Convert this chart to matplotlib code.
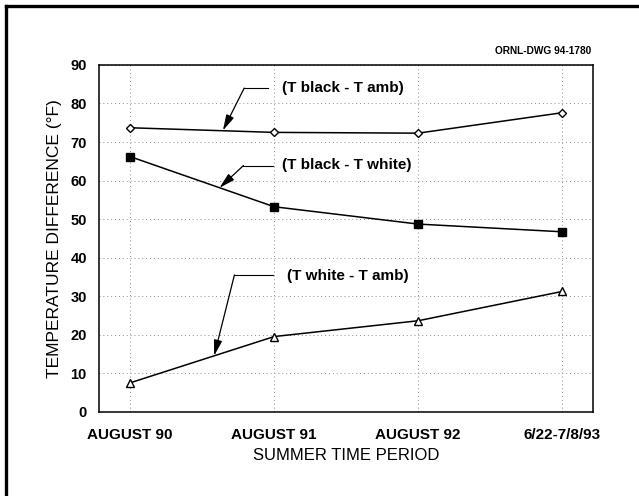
import numpy as np
import matplotlib.pyplot as plt
from matplotlib.lines import Line2D

plt.rcParams['font.family'] = ['Liberation Sans', 'DejaVu Sans']

# Data
periods = ['AUGUST 90', 'AUGUST 91', 'AUGUST 92', '6/22-7/8/93']
black_amb = [73.7, 72.5, 72.3, 77.6]
black_white = [66.2, 53.2, 48.7, 46.7]
white_amb = [7.5, 19.5, 23.6, 31.2]
y_ticks = [0, 10, 20, 30, 40, 50, 60, 70, 80, 90]

# Callout labels: text, text pos, knee, leader end, arrow tip
callouts = [
    ('(T black - T amb)', (1.056, 84.0), (0.792, 84.0), (0.958, 84.0), (0.644, 73.0)),
    ('(T black - T white)', (1.053, 64.0), (0.787, 63.9), (0.993, 63.9), (0.620, 58.1)),
    ('(T white - T amb)', (1.092, 35.3), (0.724, 35.5), (0.991, 35.5), (0.583, 14.5)),
]

fig = plt.figure(figsize=(6.39, 4.96), dpi=100)
ax = fig.add_axes([0.1554, 0.170, 0.772, 0.699])

x = np.arange(len(periods))

ax.plot(x, black_amb, '-', color='black', lw=1.1, marker='D', ms=4.5,
        mfc='white', mec='black', mew=1.0, zorder=3)
ax.plot(x, black_white, '-', color='black', lw=1.1, marker='s', ms=6,
        mfc='black', mec='black', zorder=3)
ax.plot(x, white_amb, '-', color='black', lw=1.1, marker='^', ms=5.5,
        mfc='white', mec='black', mew=1.0, zorder=3)

# Callouts with leader lines
for txt, tpos, knee, lend, tip in callouts:
    ax.plot([knee[0], lend[0]], [knee[1], lend[1]], color='black', lw=0.8)
    ax.annotate('', xy=tip, xytext=knee,
                arrowprops=dict(arrowstyle='-|>,head_length=0.95,head_width=0.25',
                                color='black', lw=0.9, shrinkA=0, shrinkB=0,
                                mutation_scale=10))
    ax.text(tpos[0], tpos[1], txt, fontsize=11, fontweight='bold',
            ha='left', va='center')

ax.set_xlim(-0.215, 3.213)
ax.set_ylim(0, 90)
ax.set_xticks(x)
ax.set_xticklabels(periods, fontsize=11, fontweight='bold')
ax.set_yticks(y_ticks)
ax.set_yticklabels([str(v) for v in y_ticks], fontsize=10.5, fontweight='bold')
ax.tick_params(axis='both', length=0)
ax.tick_params(axis='x', pad=12)
ax.tick_params(axis='y', pad=9)

ax.grid(True, color='0.55', linestyle=(0, (1, 3)), lw=0.7)
ax.set_axisbelow(True)
for s in ax.spines.values():
    s.set_linewidth(1.1)

ax.set_xlabel('SUMMER TIME PERIOD', fontsize=12, labelpad=4)
ax.set_ylabel('TEMPERATURE DIFFERENCE (°F)', fontsize=12.5, labelpad=6)

fig.text(0.926, 0.898, 'ORNL-DWG 94-1780', fontsize=7.3, fontweight='bold',
         ha='right', va='center')

# Outer frame (left and top)
fig.add_artist(Line2D([6 / 639, 6 / 639], [0, 1 - 6 / 496], color='black', lw=2.4,
                      transform=fig.transFigure, solid_capstyle='projecting'))
fig.add_artist(Line2D([6 / 639, 1], [1 - 6 / 496, 1 - 6 / 496], color='black', lw=2.4,
                      transform=fig.transFigure, solid_capstyle='projecting'))

fig.savefig('out.png', dpi=100)
